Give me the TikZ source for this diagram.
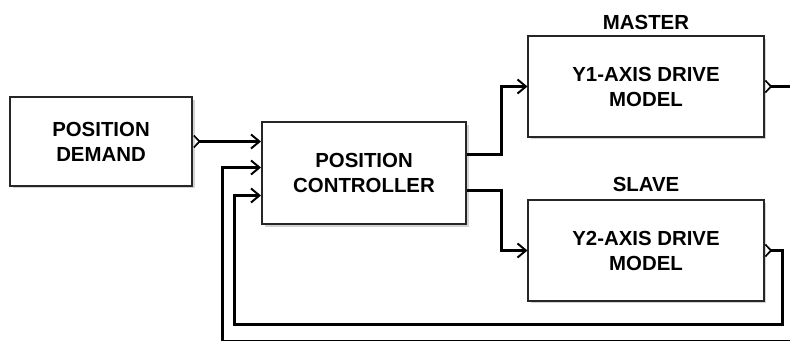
\documentclass[tikz,border=0pt]{standalone}
\usepackage{fontspec}
\setmainfont{Liberation Sans}
\usetikzlibrary{arrows.meta,positioning,shadows,calc}
\tikzset{
  blk/.style={draw=black!85, line width=0.05cm, fill=white, align=center,
              font=\fontsize{14.5}{17.8}\selectfont\bfseries,
              drop shadow={shadow xshift=2pt, shadow yshift=-2pt, opacity=0.35}},
  conn/.style={line width=0.075cm, -{Straight Barb[length=6pt,width=10pt,line width=1.4pt]}},
  outp/.style={line width=0.075cm, {Straight Barb[reversed,length=4pt,width=8.5pt,line width=1.2pt]}-{Straight Barb[length=6pt,width=10pt,line width=1.4pt]}},
  lbl/.style={font=\fontsize{14.5}{17}\selectfont\bfseries, inner sep=1pt}
}
\begin{document}
\begin{tikzpicture}[x=0.025cm, y=-0.025cm]
  \useasboundingbox (0,0) rectangle (790,341);
  \clip (0,0) rectangle (790,341);

  % blocks
  \node[blk, minimum width=4.55cm, minimum height=2.2cm] (dem) at (101,141.5) {POSITION\\DEMAND};
  \node[blk, minimum width=5.1cm, minimum height=2.55cm] (ctl) at (364,173) {POSITION\\CONTROLLER};
  \node[blk, minimum width=5.875cm, minimum height=2.5cm] (y1) at (646,86.5) {Y1-AXIS DRIVE\\MODEL};
  \node[blk, minimum width=5.875cm, minimum height=2.5cm] (y2) at (646,250.5) {Y2-AXIS DRIVE\\MODEL};
  \node[lbl, above=3pt of y1] (mst) {MASTER};
  \node[lbl, above=4pt of y2] (slv) {SLAVE};

  % ports on the controller
  \coordinate (c2i) at ($(ctl.north west)+(0,46.5)$);
  \coordinate (c3i) at ($(ctl.north west)+(0,74.5)$);
  \coordinate (c1o) at ($(ctl.north east)+(0,33.5)$);
  \coordinate (c2o) at ($(ctl.north east)+(0,69.5)$);
  \coordinate (lp1) at (222.5,341);
  \coordinate (lp2) at (234.5,324.5);

  % connectors
  \draw[outp] (dem.east) -- (dem.east -| ctl.west);
  \draw[conn] (c1o) -- ++(34.5,0) |- (y1.west);
  \draw[conn] (c2o) -- ++(34.5,0) |- (y2.west);
  \draw[outp] (y2.east) -- ++(18,0) |- (lp2) |- (c3i);
  \draw[outp] (y1.east) -- ++(40,0) |- (lp1) |- (c2i);
\end{tikzpicture}
\end{document}
